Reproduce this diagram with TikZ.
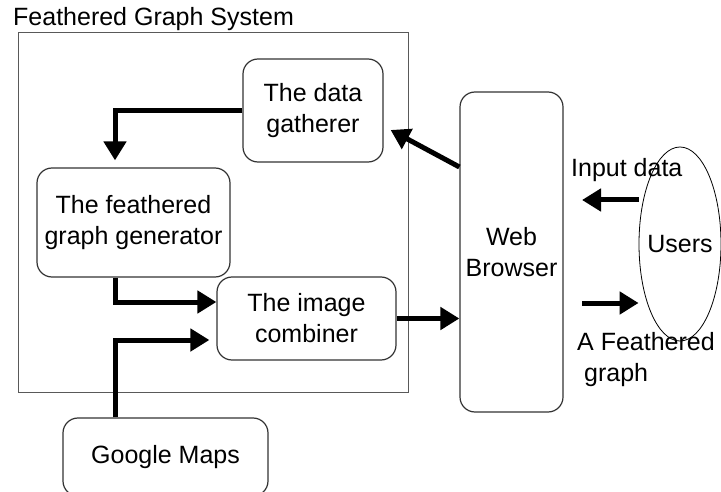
\documentclass[tikz,border=0pt]{standalone}
\usepackage{fontspec}
\setmainfont{Liberation Sans}
\usetikzlibrary{positioning,arrows.meta,shapes.geometric}

\begin{document}
\begin{tikzpicture}[
  x=1pt,y=-1pt,
  every node/.style={font=\fontsize{25}{31}\selectfont},
  block/.style={rectangle,draw=black!80,line width=1.2pt,rounded corners=15pt,inner sep=0pt,align=center},
  flow/.style={-{Triangle[length=19pt,width=22pt]},line width=5pt},
  tag/.style={inner sep=0pt,align=left},
]
\useasboundingbox (0,0) rectangle (721,492);

% System frame and title
\node[draw=black!65,line width=1pt,minimum width=390pt,minimum height=359pt,inner sep=0pt] (system) at (213,212.5) {};
\node[tag,anchor=base west] (title) at (13,26) {Feathered Graph System};

% Components
\node[block,minimum width=140pt,minimum height=103pt] (gatherer) at (313,110.5) {The data\\gatherer};
\node[block,minimum width=193pt,minimum height=109pt] (generator) at (133.5,222.5) {The feathered\\graph generator};
\node[block,minimum width=179pt,minimum height=83pt] (combiner) at (306.5,318.5) {The image\\combiner};
\node[block,minimum width=103pt,minimum height=320pt] (browser) at (511.5,252) {Web\\Browser};
\node[block,minimum width=205pt,minimum height=78pt] (maps) at (165.5,457) {Google Maps};
\node[ellipse,draw,line width=0.8pt,inner xsep=-4pt,minimum width=82pt,minimum height=194pt] (users) at (680,244) {Users};

% Labels at the users
\node[tag,anchor=west] (inlabel) at (571,170) {Input data};
\node[tag,anchor=north west] (outlabel) at (577,332) {A Feathered\\\hspace*{7pt}graph};

% Free ends of the user arrows
\coordinate (inEnd) at (582,200);
\coordinate (outStart) at (582,303);

% Arrows
\draw[flow] (gatherer.west) -| ([xshift=-18.5pt,yshift=7pt]generator.north);
\draw[flow] ([xshift=-18.5pt]generator.south) |- ([yshift=16.5pt]combiner.west);
\draw[flow] ([xshift=-50.5pt]maps.north) |- ([xshift=-7pt,yshift=-21.5pt]combiner.west);
\draw[flow] (combiner.east) -- (combiner.east -| browser.west);
\draw[flow] ([yshift=85pt]browser.west) -- ([xshift=7pt,yshift=-19.5pt]gatherer.east);
\draw[flow] (users.west |- inEnd) -- (inEnd);
\draw[flow] (outStart) -- (users.west |- outStart);

\end{tikzpicture}
\end{document}
